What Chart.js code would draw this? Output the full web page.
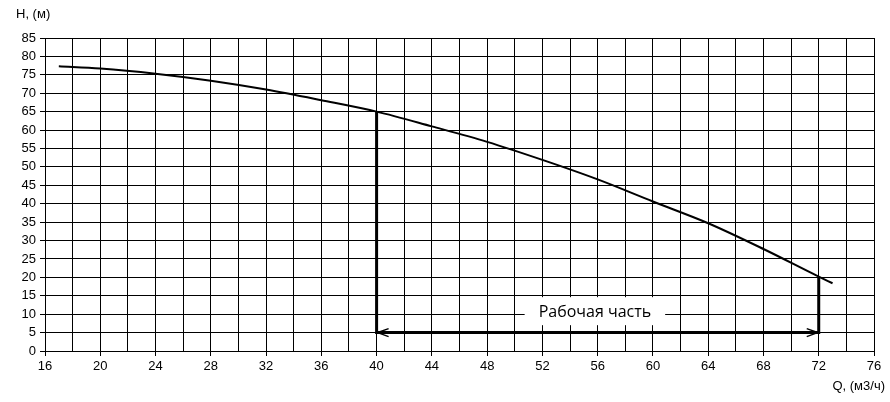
<!DOCTYPE html>
<html lang="ru">
<head>
    <meta charset="UTF-8">
    <title>Напорная характеристика</title>
    <script src="https://cdn.jsdelivr.net/npm/chart.js"></script>
    <style>
        body {
            margin: 0;
            padding: 0;
            background: #fff;
        }
        .wrap {
            width: 890px;
            height: 402px;
        }
    </style>
</head>
<body>
    <div class="wrap"><canvas id="pump-chart"></canvas></div>
    <script>
        // Q, м3/ч and H, м
        const flowQ = [17, 20, 24, 28, 32, 36, 40, 44, 48, 52, 56, 60, 64, 68, 72, 73];
        const headH = [77.3, 76.7, 75.3, 73.4, 71.0, 68.1, 65.0, 61.0, 56.8, 51.9, 46.6, 40.6, 34.7, 27.7, 20.2, 18.4];

        // working range of the pump
        const workQ = [40, 72];
        const workH = [65, 20];
        const workBaseH = 5;
        const workLabel = 'Рабочая часть';
        const workLabelQ = 55.8;
        const workLabelH = 10;

        const xTitle = 'Q, (м3/ч)';
        const yTitle = 'H, (м)';

        const curve = flowQ.map((q, i) => ({ x: q, y: headH[i] }));

        const extras = {
            id: 'extras',
            afterDatasetsDraw(chart) {
                const ctx = chart.ctx;
                const xs = chart.scales.x;
                const ys = chart.scales.y;
                ctx.save();

                // arrow heads on the working range line
                const yb = ys.getPixelForValue(workBaseH);
                const xl = xs.getPixelForValue(workQ[0]);
                const xr = xs.getPixelForValue(workQ[1]);
                ctx.strokeStyle = '#000';
                ctx.lineWidth = 1.5;
                ctx.beginPath();
                ctx.moveTo(xl + 12, yb - 4);
                ctx.lineTo(xl + 1, yb);
                ctx.lineTo(xl + 12, yb + 4);
                ctx.moveTo(xr - 12, yb - 4);
                ctx.lineTo(xr - 1, yb);
                ctx.lineTo(xr - 12, yb + 4);
                ctx.stroke();

                // label with white box
                ctx.font = '16px "Open Sans", "Noto Sans", sans-serif';
                const lx = xs.getPixelForValue(workLabelQ);
                const ly = ys.getPixelForValue(workLabelH) - 2;
                const w = ctx.measureText(workLabel).width;
                ctx.fillStyle = '#fff';
                ctx.fillRect(lx - w / 2 - 14, ly - 15, w + 28, 28);
                ctx.fillStyle = '#000';
                ctx.textAlign = 'center';
                ctx.textBaseline = 'middle';
                ctx.fillText(workLabel, lx, ly);

                // axis titles
                ctx.font = '13px "Liberation Sans", Arial, sans-serif';
                ctx.textAlign = 'left';
                ctx.fillText(yTitle, 16, 14);
                ctx.textAlign = 'right';
                ctx.fillText(xTitle, 885, 386);
                ctx.restore();
            }
        };

        Chart.defaults.font.family = '"Liberation Sans", Arial, sans-serif';
        Chart.defaults.font.size = 13;
        Chart.defaults.color = '#000';

        new Chart(document.getElementById('pump-chart'), {
            type: 'line',
            data: {
                datasets: [
                    {
                        data: curve,
                        borderColor: '#000',
                        borderWidth: 2,
                        pointRadius: 0,
                        cubicInterpolationMode: 'monotone',
                    },
                    {
                        data: [{ x: workQ[0], y: workH[0] }, { x: workQ[0], y: workBaseH }, { x: workQ[1], y: workBaseH }, { x: workQ[1], y: workH[1] }],
                        borderColor: '#000',
                        borderWidth: 3,
                        pointRadius: 0,
                        tension: 0,
                    },
                ],
            },
            options: {
                responsive: true,
                maintainAspectRatio: false,
                animation: false,
                layout: { padding: { top: 38, right: 16, left: 0, bottom: 0 } },
                plugins: {
                    legend: { display: false },
                    tooltip: { enabled: false },
                },
                scales: {
                    x: {
                        type: 'linear',
                        min: 16,
                        max: 76,
                        afterFit: (s) => { s.height = 51; },
                        border: { color: '#000', width: 1 },
                        grid: {
                            color: '#000',
                            lineWidth: 1,
                            tickLength: 5,
                            tickColor: (c) => (c.tick && c.tick.value % 4 === 0 ? '#000' : 'rgba(0,0,0,0)'),
                        },
                        ticks: {
                            stepSize: 2,
                            autoSkip: false,
                            maxRotation: 0,
                            padding: 3,
                            callback: (v) => (v % 4 === 0 ? v : ''),
                        },
                    },
                    y: {
                        min: 0,
                        max: 85,
                        afterFit: (s) => { s.width = 45; },
                        border: { color: '#000', width: 1 },
                        grid: { color: '#000', lineWidth: 1, tickLength: 5 },
                        ticks: { stepSize: 5, padding: 4, autoSkip: false },
                    },
                },
            },
            plugins: [extras],
        });
    </script>
</body>
</html>
